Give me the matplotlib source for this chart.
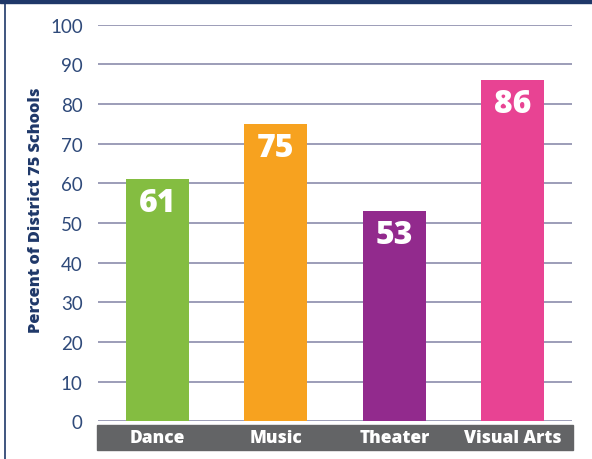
import matplotlib
matplotlib.use("Agg")
import matplotlib.pyplot as plt
from matplotlib.patches import Rectangle
from matplotlib.lines import Line2D

categories = ["Dance", "Music", "Theater", "Visual Arts"]
values = [61, 75, 53, 86]
colors = ["#84bd41", "#f7a21f", "#922a8d", "#e84393"]

navy = "#1f3869"
tick_col = "#2f4a7a"
grid_col = "#9c9db8"
band_col = "#636466"

W, H = 592, 460
fig = plt.figure(figsize=(W / 100, H / 100), dpi=100)

# axes placed in pixel terms
x0, x1 = 98, 572
ytop, ybot = 25.7, 422.4
ax = fig.add_axes([x0 / W, 1 - ybot / H, (x1 - x0) / W, (ybot - ytop) / H])

xs = range(len(categories))
bars = ax.bar(xs, values, width=0.53, color=colors, zorder=3)
for i, v in enumerate(values):
    ax.text(i, v - 6, str(v), ha="center", va="center", color="white",
            fontsize=23, fontweight="heavy", family="Open Sans", zorder=4)

ax.set_xlim(-0.5, len(categories) - 0.5)
ax.set_ylim(0, 100)
ax.set_yticks(range(0, 101, 10))
ax.set_yticklabels([str(t) for t in range(0, 101, 10)], family="Lato",
                   fontsize=13.5, color=tick_col)
ax.tick_params(axis="y", length=0, pad=11)
ax.set_xticks([])
ax.yaxis.grid(True, color=grid_col, linewidth=1.4, zorder=0)
for s in ax.spines.values():
    s.set_visible(False)
ax.set_facecolor("none")

ax.set_ylabel("Percent of District 75 Schools", fontsize=11.8, fontweight="heavy",
              color=navy, family="Open Sans")
ax.yaxis.set_label_coords((44 - x0) / (x1 - x0), (ybot - 210) / (ybot - ytop))

# grey category band
fig.patches.append(Rectangle((97 / W, 1 - 450.7 / H), (573 - 97) / W, 25 / H,
                             transform=fig.transFigure, color=band_col, zorder=1))
for i, c in enumerate(categories):
    xp = ax.transData.transform((i, 0))[0] / W
    fig.text(xp, 1 - 438.5 / H, c, ha="center", va="center", color="white",
             fontsize=12.5, fontweight="heavy", family="Open Sans", zorder=2)

# frame decorations
fig.patches.append(Rectangle((0, 1 - 3.5 / H), 1, 3.5 / H, transform=fig.transFigure,
                             color=navy, zorder=5))
fig.lines.append(Line2D([4.5 / W, 4.5 / W], [0, 1], transform=fig.transFigure,
                        color=navy, linewidth=1.2))

fig.savefig("out.png", dpi=100, facecolor="white")
